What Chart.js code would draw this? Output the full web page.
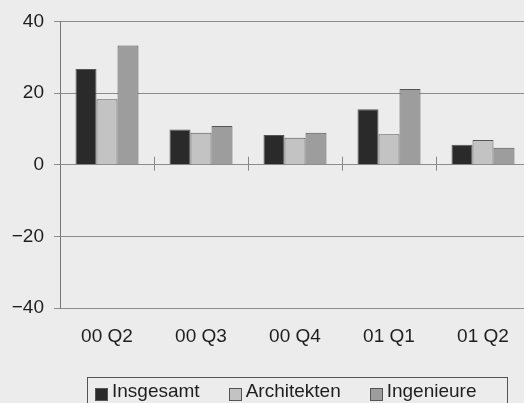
<!DOCTYPE html>
<html>
<head>
<meta charset="utf-8">
<script src="https://cdn.jsdelivr.net/npm/chart.js@4"></script>
<style>
  html, body { margin: 0; padding: 0; background: #ececec; overflow: hidden; width: 524px; height: 403px; }
  #wrap { position: relative; width: 524px; height: 403px; }
  #chart { position: absolute; left: 0; top: 0; }
  #legend {
    position: absolute; left: 87px; top: 377px; width: 421px; height: 40px;
    border: 1px solid #555; box-sizing: border-box;
    display: flex; align-items: flex-start; padding: 2px 0 0 7px;
    font: 19px "Liberation Sans", Arial, sans-serif; color: #1e1e1e;
  }
  .item { display: flex; align-items: flex-start; margin-right: 29px; }
  .mark { width: 11px; height: 11px; border: 1px solid #555; margin: 8px 4px 0 0; }
</style>
</head>
<body>
<div id="wrap">
  <canvas id="chart" width="540" height="403"></canvas>
  <div id="legend"></div>
</div>
<script>
"use strict";

const categories  = ["00 Q2", "00 Q3", "00 Q4", "01 Q1", "01 Q2"];
const seriesNames = ["Insgesamt", "Architekten", "Ingenieure"];
const insgesamt   = [26.7, 9.8, 8.3, 15.5, 5.6];
const architekten = [18.3, 8.9, 7.5, 8.5, 6.9];
const ingenieure  = [33.3, 10.8, 8.9, 21.1, 4.7];
const yTicks      = [-40, -20, 0, 20, 40];

const COLORS = ["#2a2a2a", "#c3c3c3", "#9d9d9d"];
const FONT = "'Liberation Sans', Arial, sans-serif";

// small ticks on the zero line between categories
const zeroTicks = {
  id: "zeroTicks",
  afterDatasetsDraw(chart) {
    const { ctx, scales: { x, y } } = chart;
    const y0 = y.getPixelForValue(0);
    ctx.save();
    ctx.strokeStyle = "#888";
    ctx.lineWidth = 1;
    for (let i = 0; i < categories.length - 1; i++) {
      const px = Math.round((x.getPixelForValue(i) + x.getPixelForValue(i + 1)) / 2) + 0.5;
      ctx.beginPath();
      ctx.moveTo(px, y0 - 8);
      ctx.lineTo(px, y0 + 6);
      ctx.stroke();
    }
    ctx.restore();
  },
};

new Chart(document.getElementById("chart"), {
  type: "bar",
  data: {
    labels: categories,
    datasets: [insgesamt, architekten, ingenieure].map((d, i) => ({
      label: seriesNames[i],
      data: d,
      backgroundColor: COLORS[i],
      borderColor: "#555",
      borderWidth: 1,
      barPercentage: 1,
      categoryPercentage: 0.67,
    })),
  },
  options: {
    responsive: false,
    animation: false,
    devicePixelRatio: 1,
    layout: { padding: { top: 19, right: 10, bottom: 0, left: 0 } },
    plugins: { legend: { display: false }, tooltip: { enabled: false } },
    scales: {
      x: {
        grid: { display: false, drawTicks: false },
        border: { display: false },
        ticks: { color: "#1e1e1e", padding: 17, font: { family: FONT, size: 19 } },
        afterFit: s => { s.height = 95; },
      },
      y: {
        min: yTicks[0],
        max: yTicks[yTicks.length - 1],
        afterBuildTicks: s => { s.ticks = yTicks.map(v => ({ value: v })); },
        grid: { color: "#8c8c8c", tickLength: 6 },
        border: { color: "#777", width: 1 },
        ticks: {
          color: "#1e1e1e", padding: 10, font: { family: FONT, size: 19 },
          callback: v => (v < 0 ? "\u2212" + Math.abs(v) : String(v)),
        },
        afterFit: s => { s.width = 60; },
      },
    },
  },
  plugins: [zeroTicks],
});

const legend = document.getElementById("legend");
seriesNames.forEach((name, i) => {
  const item = document.createElement("div");
  item.className = "item";
  const mark = document.createElement("span");
  mark.className = "mark";
  mark.style.background = COLORS[i];
  item.appendChild(mark);
  item.appendChild(document.createTextNode(name));
  legend.appendChild(item);
});
</script>
</body>
</html>
